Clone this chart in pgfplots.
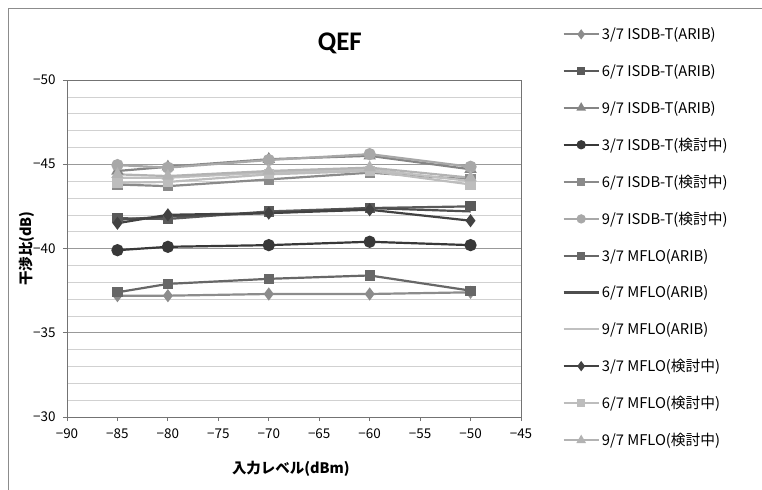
\documentclass[border=0pt]{standalone}
\usepackage{pgfplots}
\pgfplotsset{compat=1.18}
\usepackage{fontspec}
\setmainfont{Noto Sans CJK JP}
\newfontfamily\carlito{Carlito}
\definecolor{cA}{HTML}{8C8C8C}
\definecolor{cB}{HTML}{5A5A5A}
\definecolor{cC}{HTML}{858585}
\definecolor{cD}{HTML}{383838}
\definecolor{cE}{HTML}{8A8A8A}
\definecolor{cF}{HTML}{A8A8A8}
\definecolor{cG}{HTML}{676767}
\definecolor{cH}{HTML}{4E4E4E}
\definecolor{cI}{HTML}{C0C0C0}
\definecolor{cJ}{HTML}{424242}
\definecolor{cK}{HTML}{BDBDBD}
\definecolor{cL}{HTML}{B3B3B3}
\begin{document}
\begin{tikzpicture}
\useasboundingbox (0,0) rectangle (762bp,490bp);
\draw[color=black!45, line width=0.8bp] (8bp,0) -- (8bp,482bp) -- (762bp,482bp);
\begin{axis}[
  at={(67bp,73bp)}, anchor=south west,
  scale only axis, width=454bp, height=337bp,
  xmin=-90, xmax=-45, ymin=-50, ymax=-30,
  y dir=reverse,
  xtick={-90,-85,...,-45},
  xticklabels={−90,−85,−80,−75,−70,−65,−60,−55,−50,−45},
  ytick={-50,-45,-40,-35,-30},
  yticklabels={−50,−45,−40,−35,−30},
  minor y tick num=4,
  ymajorgrids, yminorgrids,
  major grid style={color=black!40, line width=0.6bp},
  minor grid style={color=black!18, line width=0.6bp},
  axis line style={color=black!55, line width=0.9bp},
  tick style={color=black!55, line width=0.8bp},
  major tick length=4bp, minor tick length=0pt,
  tick align=outside,
  xtick pos=bottom, ytick pos=left,
  tick label style={font=\fontsize{13.5}{15}\selectfont},
  yticklabel style={xshift=-4bp},
  xticklabel style={yshift=-4bp},
  xlabel={\textbf{入力レベル(dBm)}},
  ylabel={\textbf{干渉比(dB)}},
  label style={font=\fontsize{14.5}{16}\selectfont},
  xlabel style={at={(axis description cs:0.493,-0.155)}, anchor=center},
  ylabel style={at={(axis description cs:-0.088,0.5)}, anchor=center},
  title={\carlito\bfseries QEF},
  title style={font=\fontsize{27}{30}\selectfont, at={(axis description cs:0.601,1.09)}, anchor=center},
  every axis plot/.append style={line width=2.2bp},
  mark options={solid},
  legend cell align=left,
  legend style={at={(axis description cs:1.091,1.162)}, anchor=north west, draw=none, fill=none,
    font=\fontsize{14.8}{16}\selectfont, row sep=19.2bp, inner sep=0pt},
  legend image code/.code={\draw[mark repeat=2,mark phase=2,every mark/.append style={scale=0.7}] plot coordinates {(0cm,0cm)(0.62cm,0cm)(1.24cm,0cm)};},
]
\addplot[color=cA, mark=diamond*, mark size=4.8bp] coordinates {(-85,-37.2)(-80,-37.2)(-70,-37.3)(-60,-37.3)(-50,-37.4)};
\addlegendentry{3/7 ISDB-T(ARIB)}
\addplot[color=cB, mark=square*, mark size=4bp] coordinates {(-85,-41.8)(-80,-41.75)(-70,-42.2)(-60,-42.4)(-50,-42.5)};
\addlegendentry{6/7 ISDB-T(ARIB)}
\addplot[color=cC, mark=triangle*, mark size=5bp] coordinates {(-85,-44.6)(-80,-44.85)(-70,-45.3)(-60,-45.5)(-50,-44.7)};
\addlegendentry{9/7 ISDB-T(ARIB)}
\addplot[color=cD, mark=*, mark size=5bp] coordinates {(-85,-39.9)(-80,-40.1)(-70,-40.2)(-60,-40.4)(-50,-40.2)};
\addlegendentry{3/7 ISDB-T(検討中)}
\addplot[color=cE, mark=square*, mark size=4bp] coordinates {(-85,-43.8)(-80,-43.7)(-70,-44.1)(-60,-44.5)(-50,-44.1)};
\addlegendentry{6/7 ISDB-T(検討中)}
\addplot[color=cF, mark=*, mark size=5bp] coordinates {(-85,-44.95)(-80,-44.8)(-70,-45.25)(-60,-45.6)(-50,-44.85)};
\addlegendentry{9/7 ISDB-T(検討中)}
\addplot[color=cG, mark=square*, mark size=4bp] coordinates {(-85,-37.4)(-80,-37.9)(-70,-38.2)(-60,-38.4)(-50,-37.5)};
\addlegendentry{3/7 MFLO(ARIB)}
\addplot[color=cH, no marks] coordinates {(-85,-41.7)(-80,-41.9)(-70,-42.1)(-60,-42.4)(-50,-42.2)};
\addlegendentry{6/7 MFLO(ARIB)}
\addplot[color=cI, no marks] coordinates {(-85,-44.2)(-80,-44.2)(-70,-44.5)(-60,-44.7)(-50,-44.0)};
\addlegendentry{9/7 MFLO(ARIB)}
\addplot[color=cJ, mark=diamond*, mark size=4.8bp] coordinates {(-85,-41.5)(-80,-42.0)(-70,-42.1)(-60,-42.3)(-50,-41.65)};
\addlegendentry{3/7 MFLO(検討中)}
\addplot[color=cK, mark=square*, mark size=4bp] coordinates {(-85,-43.9)(-80,-43.95)(-70,-44.4)(-60,-44.6)(-50,-43.8)};
\addlegendentry{6/7 MFLO(検討中)}
\addplot[color=cL, mark=triangle*, mark size=5bp] coordinates {(-85,-44.4)(-80,-44.3)(-70,-44.6)(-60,-44.8)(-50,-44.2)};
\addlegendentry{9/7 MFLO(検討中)}
\end{axis}
\end{tikzpicture}
\end{document}
